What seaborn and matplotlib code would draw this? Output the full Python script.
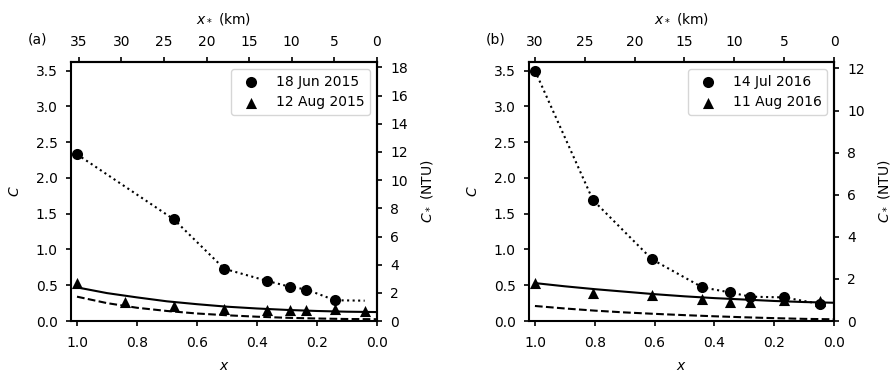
import numpy as np
import pandas as pd
import matplotlib
matplotlib.use("Agg")
import matplotlib.pyplot as plt
import seaborn as sns

# ---------------- data ----------------
# Panel (a) 2015
a_circ_x = [1.0, 0.677, 0.509, 0.366, 0.291, 0.235, 0.140]
a_circ_C = [2.33, 1.42, 0.73, 0.56, 0.48, 0.44, 0.29]
a_tri_x = [1.0, 0.839, 0.677, 0.509, 0.366, 0.291, 0.235, 0.140, 0.041]
a_tri_C = [0.53, 0.27, 0.215, 0.17, 0.155, 0.155, 0.155, 0.163, 0.14]
a_dot_x = [1.0, 0.677, 0.509, 0.366, 0.291, 0.235, 0.140, 0.041]
a_dot_C = [2.33, 1.42, 0.73, 0.56, 0.48, 0.44, 0.29, 0.284]
a_model_x = [1.0, 0.9, 0.8, 0.7, 0.6, 0.5, 0.4, 0.3, 0.2, 0.1, 0.0]
a_solid_C = [0.47, 0.39, 0.33, 0.275, 0.235, 0.20, 0.175, 0.155, 0.14, 0.13, 0.125]
a_dash_C = [0.34, 0.25, 0.185, 0.14, 0.105, 0.08, 0.06, 0.045, 0.035, 0.028, 0.025]

# Panel (b) 2016
b_circ_x = [1.0, 0.806, 0.608, 0.440, 0.348, 0.280, 0.167, 0.048]
b_circ_C = [3.50, 1.69, 0.86, 0.47, 0.40, 0.34, 0.33, 0.24]
b_tri_x = [1.0, 0.806, 0.608, 0.440, 0.348, 0.280, 0.167, 0.048]
b_tri_C = [0.53, 0.39, 0.364, 0.303, 0.27, 0.26, 0.29, 0.285]
b_dot_x = b_circ_x
b_dot_C = b_circ_C
b_model_x = [1.0, 0.9, 0.8, 0.7, 0.6, 0.5, 0.4, 0.3, 0.2, 0.1, 0.0]
b_solid_C = [0.53, 0.485, 0.445, 0.41, 0.375, 0.345, 0.32, 0.30, 0.28, 0.265, 0.255]
b_dash_C = [0.21, 0.175, 0.145, 0.12, 0.10, 0.082, 0.066, 0.052, 0.04, 0.03, 0.024]

panels = [
    dict(tag="(a)", circ=(a_circ_x, a_circ_C), tri=(a_tri_x, a_tri_C),
         dot=(a_dot_x, a_dot_C), mx=a_model_x, solid=a_solid_C, dash=a_dash_C,
         labels=("18 Jun 2015", "12 Aug 2015"), L=35.2, K=5.08,
         top_ticks=[35, 30, 25, 20, 15, 10, 5, 0], right_ticks=list(range(0, 19, 2))),
    dict(tag="(b)", circ=(b_circ_x, b_circ_C), tri=(b_tri_x, b_tri_C),
         dot=(b_dot_x, b_dot_C), mx=b_model_x, solid=b_solid_C, dash=b_dash_C,
         labels=("14 Jul 2016", "11 Aug 2016"), L=30.0, K=3.4,
         top_ticks=[30, 25, 20, 15, 10, 5, 0], right_ticks=list(range(0, 13, 2))),
]

# ---------------- style ----------------
sns.set_style("ticks")
plt.rcParams['font.family'] = ['DejaVu Sans']
plt.rcParams['font.size'] = 10
plt.rcParams['axes.linewidth'] = 1.5
plt.rcParams['xtick.major.width'] = 1.2
plt.rcParams['ytick.major.width'] = 1.2
plt.rcParams['xtick.major.pad'] = 6.5
plt.rcParams['ytick.major.pad'] = 6.0
plt.rcParams['axes.labelpad'] = 8.0
plt.rcParams['xtick.color'] = 'black'
plt.rcParams['ytick.color'] = 'black'
plt.rcParams['axes.edgecolor'] = 'black'
plt.rcParams['text.color'] = 'black'
plt.rcParams['axes.labelcolor'] = 'black'
plt.rcParams['xtick.labelsize'] = 10
plt.rcParams['ytick.labelsize'] = 10
plt.rcParams['axes.labelsize'] = 10
plt.rcParams['legend.fontsize'] = 10

fig = plt.figure(figsize=(8.92, 3.74), dpi=100)
ax_a = fig.add_axes([0.0796, 0.1417, 0.3430, 0.6925])
ax_b = fig.add_axes([0.5930, 0.1417, 0.3420, 0.6925])

for ax, p in zip([ax_a, ax_b], panels):
    sns.lineplot(x=p["dot"][0], y=p["dot"][1], ax=ax, color='k', lw=1.5,
                 linestyle=':', sort=False, estimator=None)
    sns.lineplot(x=p["mx"], y=p["solid"], ax=ax, color='k', lw=1.5,
                 linestyle='-', sort=False, estimator=None)
    sns.lineplot(x=p["mx"], y=p["dash"], ax=ax, color='k', lw=1.5,
                 linestyle='--', sort=False, estimator=None)
    sns.scatterplot(x=p["circ"][0], y=p["circ"][1], ax=ax, color='k', marker='o',
                    s=64, linewidth=0, label=p["labels"][0], zorder=3)
    sns.scatterplot(x=p["tri"][0], y=p["tri"][1], ax=ax, color='k', marker='^',
                    s=64, linewidth=0, label=p["labels"][1], zorder=3)

    ax.set_xlim(1.02, 0.0)
    ax.set_ylim(0, 3.62)
    ax.set_xticks([1.0, 0.8, 0.6, 0.4, 0.2, 0.0])
    ax.set_xticklabels(["1.0", "0.8", "0.6", "0.4", "0.2", "0.0"])
    ax.set_yticks([0.0, 0.5, 1.0, 1.5, 2.0, 2.5, 3.0, 3.5])
    ax.tick_params(axis='x', pad=7.5)
    ax.set_xlabel("$x$", labelpad=6)
    ax.set_ylabel("$C$", labelpad=10)
    leg = ax.legend(loc='upper right', frameon=True)
    leg.get_frame().set_edgecolor('#cccccc')

    L = p["L"]; K = p["K"]
    top = ax.secondary_xaxis('top', functions=(lambda x, L=L: x * L, lambda k, L=L: k / L))
    top.set_xticks(p["top_ticks"])
    top.tick_params(axis='x', pad=6.0)
    top.set_xlabel("$x_*$ (km)", labelpad=8)
    right = ax.secondary_yaxis('right', functions=(lambda c, K=K: c * K, lambda v, K=K: v / K))
    right.set_yticks(p["right_ticks"])
    right.set_ylabel("$C_*$ (NTU)", labelpad=8)
    for sa in (top, right):
        for s in sa.spines.values():
            s.set_linewidth(1.5)

    ax.text(-0.11, 1.085, p["tag"], transform=ax.transAxes, ha='center', va='center', fontsize=10)

fig.savefig("out.png", dpi=100)
